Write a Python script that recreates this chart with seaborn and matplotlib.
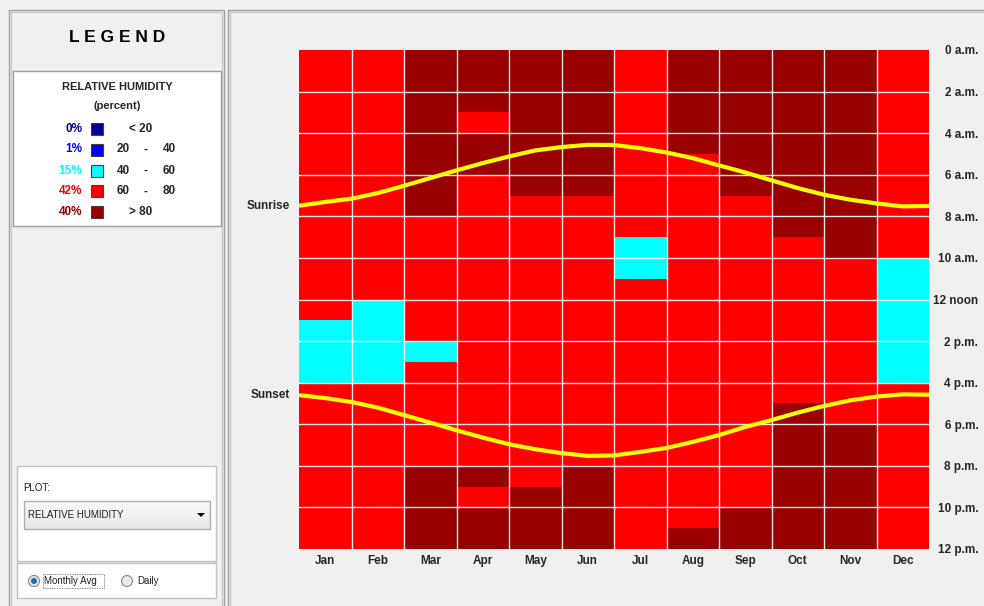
import numpy as np
import pandas as pd
import seaborn as sns
import matplotlib
matplotlib.use("Agg")
import matplotlib.pyplot as plt
from matplotlib.colors import ListedColormap
from matplotlib.patches import Rectangle, Circle, Polygon

# ---------------- data ----------------
months = ["Jan", "Feb", "Mar", "Apr", "May", "Jun",
          "Jul", "Aug", "Sep", "Oct", "Nov", "Dec"]
hours = list(range(24))
# class codes: 0 "<20", 1 "20-40", 2 "40-60", 3 "60-80", 4 ">80"
jan = [3, 3, 3, 3, 3, 3, 3, 3, 3, 3, 3, 3, 3, 2, 2, 2, 3, 3, 3, 3, 3, 3, 3, 3]
feb = [3, 3, 3, 3, 3, 3, 3, 3, 3, 3, 3, 3, 2, 2, 2, 2, 3, 3, 3, 3, 3, 3, 3, 3]
mar = [4, 4, 4, 4, 4, 4, 4, 4, 3, 3, 3, 3, 3, 3, 2, 3, 3, 3, 3, 3, 4, 4, 4, 4]
apr = [4, 4, 4, 3, 4, 4, 3, 3, 3, 3, 3, 3, 3, 3, 3, 3, 3, 3, 3, 3, 4, 3, 4, 4]
may = [4, 4, 4, 4, 4, 4, 4, 3, 3, 3, 3, 3, 3, 3, 3, 3, 3, 3, 3, 3, 3, 4, 4, 4]
jun = [4, 4, 4, 4, 4, 4, 4, 3, 3, 3, 3, 3, 3, 3, 3, 3, 3, 3, 3, 3, 4, 4, 4, 4]
jul = [3, 3, 3, 3, 3, 3, 3, 3, 3, 2, 2, 3, 3, 3, 3, 3, 3, 3, 3, 3, 3, 3, 3, 3]
aug = [4, 4, 4, 4, 4, 3, 3, 3, 3, 3, 3, 3, 3, 3, 3, 3, 3, 3, 3, 3, 3, 3, 3, 4]
sep = [4, 4, 4, 4, 4, 4, 4, 3, 3, 3, 3, 3, 3, 3, 3, 3, 3, 3, 3, 3, 3, 3, 4, 4]
oct_ = [4, 4, 4, 4, 4, 4, 4, 4, 4, 3, 3, 3, 3, 3, 3, 3, 3, 4, 4, 4, 4, 4, 4, 4]
nov = [4, 4, 4, 4, 4, 4, 4, 4, 4, 4, 3, 3, 3, 3, 3, 3, 3, 3, 4, 4, 4, 4, 4, 4]
dec = [3, 3, 3, 3, 3, 3, 3, 3, 3, 3, 2, 2, 2, 2, 2, 2, 3, 3, 3, 3, 3, 3, 3, 3]

# sunrise / sunset (hour of day) read every half month
sun_x = [0, 0.5, 1, 1.5, 2, 2.5, 3, 3.5, 4, 4.5, 5, 5.5, 6,
         6.5, 7, 7.5, 8, 8.5, 9, 9.5, 10, 10.5, 11, 11.5, 12]
sunrise = [7.49, 7.31, 7.15, 6.88, 6.53, 6.16, 5.79, 5.44, 5.12, 4.83, 4.67, 4.56, 4.57,
           4.72, 4.93, 5.20, 5.55, 5.89, 6.27, 6.64, 6.96, 7.20, 7.38, 7.52, 7.50]
sunset = [16.60, 16.74, 16.93, 17.20, 17.56, 17.92, 18.29, 18.64, 18.96, 19.20, 19.39, 19.52, 19.50,
          19.33, 19.14, 18.85, 18.52, 18.13, 17.80, 17.44, 17.12, 16.85, 16.67, 16.56, 16.58]

hour_ticks = [0, 2, 4, 6, 8, 10, 12, 14, 16, 18, 20, 22, 24]
hour_labels = ["0 a.m.", "2 a.m.", "4 a.m.", "6 a.m.", "8 a.m.", "10 a.m.", "12 noon",
               "2 p.m.", "4 p.m.", "6 p.m.", "8 p.m.", "10 p.m.", "12 p.m."]

legend_pct = ["0%", "1%", "15%", "42%", "40%"]
legend_ranges = [("< 20",), ("20", "40"), ("40", "60"), ("60", "80"), ("> 80",)]
class_colors = ["#000099", "#0000ff", "#00ffff", "#ff0000", "#990000"]
pct_colors = ["#000099", "#0000ff", "#00ffff", "#ff0000", "#990000"]

# ---------------- figure ----------------
sns.set_theme(style="white")
plt.rcParams["font.family"] = ["Liberation Sans", "DejaVu Sans"]

W, H = 984, 606
fig = plt.figure(figsize=(W / 100, H / 100), dpi=100, facecolor="#f0f0f0")

# overlay in pixel coordinates for the UI chrome
ov = fig.add_axes([0, 0, 1, 1], zorder=0)
ov.set_xlim(0, W)
ov.set_ylim(H, 0)
ov.axis("off")
ov.patch.set_visible(False)

grey = "#a0a0a0"
# panel frames
for x0, x1 in [(9, 224), (228, 1000)]:
    ov.add_patch(Rectangle((x0, 10), x1 - x0, H, fill=False, ec=grey, lw=1))
    ov.add_patch(Rectangle((x0 + 2, 12), x1 - x0 - 4, H, fill=False, ec="#c8c8c8", lw=1))

ov.text(117, 37, "L E G E N D", ha="center", va="center", fontsize=12.5,
        fontweight="bold", color="black")

# legend box
ov.add_patch(Rectangle((13, 71), 208, 155, fc="white", ec=grey, lw=1))
ov.text(117, 87, "RELATIVE HUMIDITY", ha="center", va="center", fontsize=8,
        fontweight="bold")
ov.text(117, 106, "(percent)", ha="center", va="center", fontsize=8,
        fontweight="bold")
row_y = [128.5, 149.5, 170.5, 191.3, 212]
for i in range(5):
    y = row_y[i]
    ov.text(82, y, legend_pct[i], ha="right", va="center", fontsize=8.5,
            fontweight="bold", color=pct_colors[i])
    ov.add_patch(Rectangle((91, y - 6), 11.5, 12, fc=class_colors[i], ec="#404040", lw=0.8))
    rng = legend_ranges[i]
    if len(rng) == 1:
        ov.text(129, y, rng[0], ha="left", va="center", fontsize=8.5, fontweight="bold")
    else:
        ov.text(117, y, rng[0], ha="left", va="center", fontsize=8.5, fontweight="bold")
        ov.text(146, y, "-", ha="center", va="center", fontsize=8.5, fontweight="bold")
        ov.text(163, y, rng[1], ha="left", va="center", fontsize=8.5, fontweight="bold")

# plot selector box
ov.add_patch(Rectangle((17, 466), 199, 95, fc="white", ec="#c0c0c0", lw=1))
ov.text(23, 488, "PLOT:", ha="left", va="center", fontsize=7, color="#202020")
grad = np.linspace(0, 1, 50).reshape(-1, 1)
ov.imshow(grad, extent=(24, 210, 529, 501), cmap=ListedColormap(
    plt.cm.Greys(np.linspace(0.05, 0.18, 64))), aspect="auto", zorder=1)
ov.add_patch(Rectangle((24, 501), 186, 28, fill=False, ec="#acacac", lw=1, zorder=2))
ov.text(28, 515, "RELATIVE HUMIDITY", ha="left", va="center", fontsize=7,
        color="#202020", zorder=3)
ov.add_patch(Polygon([[197, 513], [205, 513], [201, 517]], closed=True, fc="black",
                     ec="none", zorder=3))
ov.set_xlim(0, W)
ov.set_ylim(H, 0)

# radio box
ov.add_patch(Rectangle((17, 563), 199, 35, fc="white", ec="#c0c0c0", lw=1))
ov.add_patch(Circle((34, 581), 5.5, fc="#e8e8e8", ec="#8a8a8a", lw=0.8))
ov.add_patch(Circle((34, 581), 3, fc="#1f6fb0", ec="none"))
ov.text(44, 581, "Monthly Avg", ha="left", va="center", fontsize=7, color="#202020")
ov.add_patch(Rectangle((43, 574), 61, 14, fill=False, ec="#606060", lw=0.6, ls=(0, (1, 1))))
ov.add_patch(Circle((127, 581), 5.5, fc="#e8e8e8", ec="#8a8a8a", lw=0.8))
ov.text(137, 581, "Daily", ha="left", va="center", fontsize=7, color="#202020")

# ---------------- heatmap ----------------
x0, x1, y0, y1 = 299, 929, 50, 549
ax = fig.add_axes([x0 / W, 1 - y1 / H, (x1 - x0) / W, (y1 - y0) / H], zorder=2)

df = pd.DataFrame({"Jan": jan, "Feb": feb, "Mar": mar, "Apr": apr, "May": may,
                   "Jun": jun, "Jul": jul, "Aug": aug, "Sep": sep, "Oct": oct_,
                   "Nov": nov, "Dec": dec}, index=hours)[months]
cmap = ListedColormap(class_colors)
sns.heatmap(df, cmap=cmap, vmin=-0.5, vmax=4.5, cbar=False, ax=ax,
            linewidths=0, rasterized=False)

for h in range(2, 24, 2):
    ax.axhline(h, color="white", lw=1.0, alpha=0.9, zorder=3)
for m in range(1, 12):
    ax.axvline(m, color="white", lw=1.0, alpha=0.9, zorder=3)

ax.plot(sun_x, sunrise, color="#ffff00", lw=3, zorder=4, solid_capstyle="butt")
ax.plot(sun_x, sunset, color="#ffff00", lw=3, zorder=4, solid_capstyle="butt")

ax.set_xlim(0, 12)
ax.set_ylim(24, 0)
ax.set_xlabel("")
ax.set_ylabel("")
ax.set_xticks(np.arange(12) + 0.5)
ax.set_xticklabels(months, fontsize=8.5, fontweight="bold", rotation=0)
ax.yaxis.tick_right()
ax.set_yticks(hour_ticks)
ax.set_yticklabels(hour_labels, fontsize=8.5, fontweight="bold", rotation=0)
for lab in ax.get_yticklabels():
    lab.set_horizontalalignment("right")
ax.tick_params(axis="y", length=0, pad=35.5, right=True, left=False,
               labelright=True, labelleft=False)
ax.tick_params(axis="x", length=0, pad=4)
for s in ax.spines.values():
    s.set_visible(False)

ax.text(-0.17, 7.49, "Sunrise", ha="right", va="center", fontsize=8.5,
        fontweight="bold", transform=ax.transData, clip_on=False)
ax.text(-0.17, 16.60, "Sunset", ha="right", va="center", fontsize=8.5,
        fontweight="bold", transform=ax.transData, clip_on=False)

fig.savefig("out.png", dpi=100, facecolor=fig.get_facecolor())
